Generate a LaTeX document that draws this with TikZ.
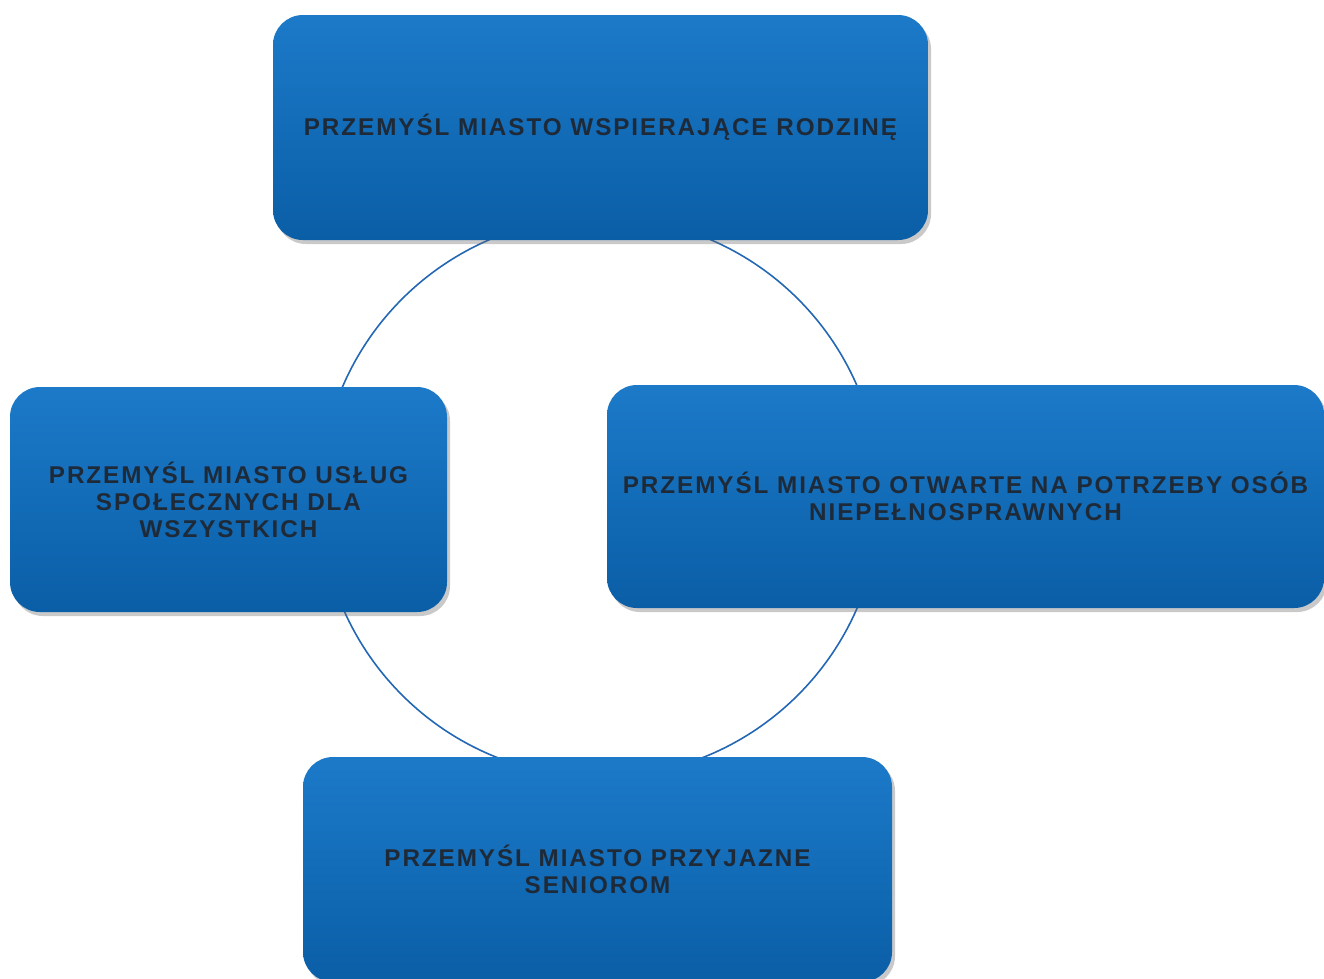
\documentclass[tikz,border=0pt]{standalone}
\usepackage{fontspec}
\setmainfont{Liberation Sans}
\usetikzlibrary{positioning,shadows}
\definecolor{boxtop}{HTML}{1C7AC9}
\definecolor{boxbot}{HTML}{0A5EA6}
\definecolor{ring}{HTML}{2266B4}
\definecolor{label}{HTML}{1E2A38}
\tikzset{
  goal/.style={rectangle, rounded corners=0.6cm, top color=boxtop, bottom color=boxbot,
    drop shadow={shadow xshift=0.06cm, shadow yshift=-0.08cm, opacity=0.35, fill=black!60},
    minimum height=4.5cm, align=center, text=label,
    font=\fontsize{13.8}{15.4}\selectfont\bfseries\addfontfeatures{LetterSpace=8}},
}
\begin{document}
\begin{tikzpicture}
    \useasboundingbox (0,0) rectangle (26.48,-19.56);
    \clip (0,0) rectangle (26.48,-19.56);
    \fill[white] (0,0) rectangle (26.48,-19.56);

    \coordinate (c) at (12,-9.94);
    \draw[ring, line width=0.9pt] (c) circle (5.6cm);

    \node[goal, minimum width=13.1cm] (top) at (12.01,-2.55) {PRZEMYŚL MIASTO WSPIERAJĄCE RODZINĘ};
    \node[goal, minimum width=8.74cm] (left) at (4.57,-9.99) {PRZEMYŚL MIASTO USŁUG\\SPOŁECZNYCH DLA\\WSZYSTKICH};
    \node[goal, minimum width=14.34cm, minimum height=4.46cm] (right) at (19.31,-9.93) {PRZEMYŚL MIASTO OTWARTE NA POTRZEBY OSÓB\\NIEPEŁNOSPRAWNYCH};
    \node[goal, minimum width=11.78cm] (bottom) at (11.95,-17.39) {PRZEMYŚL MIASTO PRZYJAZNE\\SENIOROM};
\end{tikzpicture}
\end{document}
